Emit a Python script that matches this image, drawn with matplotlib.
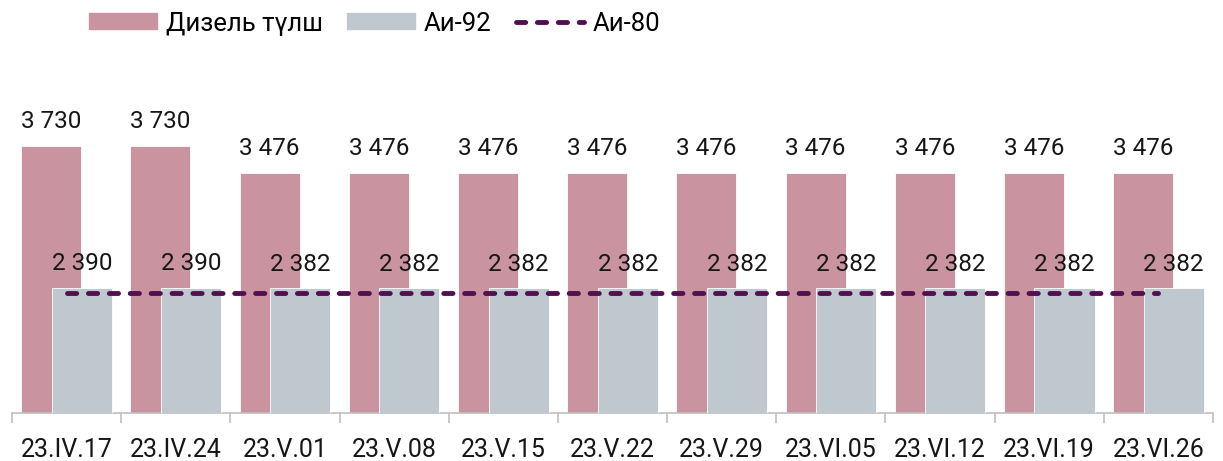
import matplotlib.pyplot as plt
from matplotlib.patches import Patch
from matplotlib.lines import Line2D
import numpy as np

plt.rcParams['font.family'] = ['Roboto', 'DejaVu Sans']

dates = ["23.IV.17", "23.IV.24", "23.V.01", "23.V.08", "23.V.15", "23.V.22",
         "23.V.29", "23.VI.05", "23.VI.12", "23.VI.19", "23.VI.26"]
diesel = [3730, 3730, 3476, 3476, 3476, 3476, 3476, 3476, 3476, 3476, 3476]
ai92 = [2390, 2390, 2382, 2382, 2382, 2382, 2382, 2382, 2382, 2382, 2382]
ai80 = [2340, 2340, 2340, 2340, 2340, 2340, 2340, 2340, 2340, 2340, 2340]

c_diesel = '#C994A0'
c_ai92 = '#BFC7CF'
c_ai80 = '#521050'
c_text = '#161616'

def fmt(v):
    return f"{v:,}".replace(",", " ")

fig = plt.figure(figsize=(12.23, 4.61), dpi=100)
ax = fig.add_axes([0.0098, 0.1035, 0.982, 0.7334])

x = np.arange(len(dates))
w = 0.55
off = 0.14
ax.bar(x - off, diesel, w, color=c_diesel, edgecolor='white', linewidth=0.6, zorder=2)
ax.bar(x + off, ai92, w, color=c_ai92, edgecolor='white', linewidth=0.6, zorder=3)
ax.plot(x, ai80, color=c_ai80, lw=3.5, linestyle=(0, (1.9, 2.4)),
        dash_capstyle='round', zorder=4)

# value labels above each bar
for xs, vals in [(x - off, diesel), (x + off, ai92)]:
    for xi, v in zip(xs, vals):
        ax.annotate(fmt(v), (xi, v), xytext=(0, 9), textcoords='offset points',
                    ha='center', va='bottom', fontsize=17.5, color=c_text)

ax.set_xlim(-0.5, len(dates) - 0.5)
ax.set_ylim(1200, 4400)
ax.set_yticks([])
for s in ['left', 'right', 'top']:
    ax.spines[s].set_visible(False)
ax.spines['bottom'].set_color('#BFBFBF')
ax.spines['bottom'].set_linewidth(1.2)

ax.set_xticks(np.arange(-0.5, len(dates), 1.0))
ax.set_xticklabels([])
ax.tick_params(axis='x', which='major', length=7, width=1.2, color='#BFBFBF')
ax.set_xticks(x, minor=True)
ax.set_xticklabels(dates, minor=True, fontsize=18, color=c_text)
ax.tick_params(axis='x', which='minor', length=0, pad=18)

handles = [Patch(color=c_diesel), Patch(color=c_ai92),
           Line2D([0], [0], color=c_ai80, lw=3.5, linestyle=(0, (1.9, 2.4)), dash_capstyle='round')]
fig.legend(handles, ["Дизель түлш", "Аи-92", "Аи-80"], loc='center left',
           bbox_to_anchor=(0.0728, 0.949), ncol=3, frameon=False,
           borderaxespad=0, borderpad=0,
           handlelength=2.65, handleheight=0.58, handletextpad=0.34, columnspacing=0.95,
           prop={'size': 18.5})

fig.savefig('out.png', dpi=100)
